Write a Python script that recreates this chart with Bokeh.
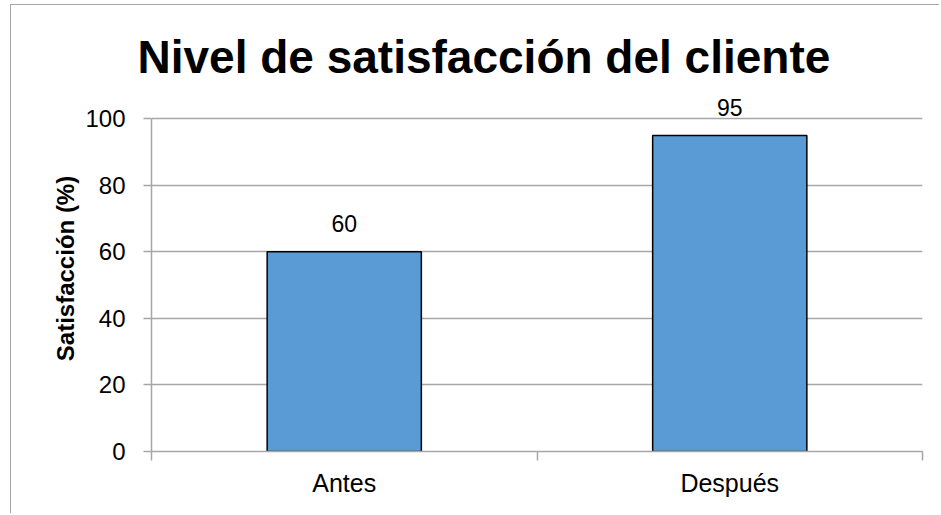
from bokeh.plotting import figure
from bokeh.models import Range1d, FixedTicker, Label, ColumnDataSource, Title
from bokeh.embed import file_html
from bokeh.resources import INLINE
import numpy as np

categories = ["Antes", "Después"]
values = [60, 95]
y_ticks = [0, 20, 40, 60, 80, 100]
title_text = "Nivel de satisfacción del cliente"
y_label = "Satisfacción (%)"

x_pos = np.arange(len(categories)) + 0.5
src = ColumnDataSource(dict(x=x_pos, top=values))

p = figure(width=929, height=509, output_backend="svg", toolbar_location=None,
           x_range=Range1d(0, len(categories)), y_range=Range1d(0, 110),
           min_border_left=140, min_border_right=18, min_border_top=80, min_border_bottom=63)
p.styles = {"margin-left": "10px", "margin-top": "4px",
            "border-left": "1px solid #a6a6a6", "border-top": "1px solid #a6a6a6"}

p.vbar(x="x", top="top", width=0.4, bottom=0, source=src,
       fill_color="#5B9BD5", line_color="black", line_width=1.5)

for xv, v in zip(x_pos, values):
    p.add_layout(Label(x=float(xv), y=v, text=str(v), text_align="center",
                       text_baseline="alphabetic", y_offset=28,
                       text_font="Liberation Sans", text_font_size="23px",
                       text_color="black"))

t = Title(text=title_text, align="left", offset=-14, standoff=5.5,
          text_font="Liberation Sans", text_font_size="46px", text_font_style="bold",
          text_color="black")
p.title = t

p.outline_line_color = None
p.background_fill_color = "white"
p.border_fill_color = "white"

# y axis
ya = p.yaxis[0]
ya.ticker = FixedTicker(ticks=y_ticks)
ya.bounds = (0, 100)
ya.axis_line_color = "#a6a6a6"
ya.axis_line_width = 1.5
ya.major_tick_line_color = "#a6a6a6"
ya.major_tick_line_width = 1.5
ya.major_tick_in = 0
ya.major_tick_out = 8
ya.minor_tick_line_color = None
ya.major_label_standoff = 18
ya.major_label_text_font = "Liberation Sans"
ya.major_label_text_font_size = "24px"
ya.major_label_text_color = "black"
ya.axis_label = y_label
ya.axis_label_text_font = "Liberation Sans"
ya.axis_label_text_font_size = "24px"
ya.axis_label_text_font_style = "bold"
ya.axis_label_text_color = "black"
ya.axis_label_standoff = 3

# x axis
xa = p.xaxis[0]
xa.ticker = FixedTicker(ticks=list(x_pos), minor_ticks=list(range(len(categories) + 1)))
xa.major_label_overrides = {float(x): c for x, c in zip(x_pos, categories)}
xa.axis_line_color = "#a6a6a6"
xa.axis_line_width = 1.5
xa.major_tick_line_color = None
xa.major_tick_in = 0
xa.major_tick_out = 0
xa.minor_tick_line_color = "#a6a6a6"
xa.minor_tick_line_width = 1.5
xa.minor_tick_in = 0
xa.minor_tick_out = 9
xa.major_label_standoff = 8
xa.major_label_text_font = "Liberation Sans"
xa.major_label_text_font_size = "25px"
xa.major_label_text_color = "black"

p.xgrid.grid_line_color = None
p.ygrid.ticker = FixedTicker(ticks=y_ticks)
p.ygrid.grid_line_color = "#a6a6a6"
p.ygrid.grid_line_width = 1.5

open("out.html", "w").write(file_html(p, INLINE))
